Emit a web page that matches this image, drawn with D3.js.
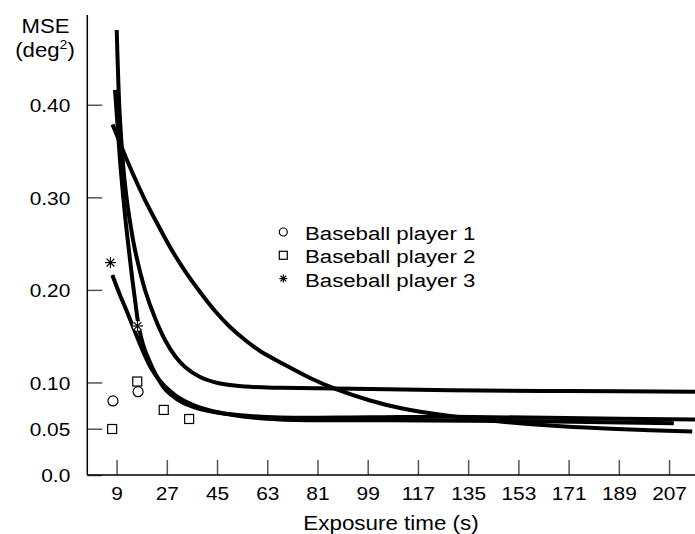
<!DOCTYPE html>
<html>
<head>
<meta charset="utf-8">
<script src="https://cdn.jsdelivr.net/npm/d3@7"></script>
<style>
  html, body { margin: 0; padding: 0; background: #fff; }
  svg { display: block; }
  text { font-family: "Liberation Sans", Arial, Helvetica, sans-serif; fill: #000; }
</style>
</head>
<body>
<svg id="chart" width="695" height="534"></svg>
<script>
// ---------------- data ----------------
const xTicks = [9, 27, 45, 63, 81, 99, 117, 135, 153, 171, 189, 207];
const yTicks = [0, 0.05, 0.10, 0.20, 0.30, 0.40];
const yTickLabels = ["0.0", "0.05", "0.10", "0.20", "0.30", "0.40"];

const seriesNames = ["Baseball player 1", "Baseball player 2", "Baseball player 3"];

// measured points
const player1X = [7.7, 16.7];
const player1Y = [0.080, 0.090];
const player2X = [7.4, 16.4, 25.9, 35.0];
const player2Y = [0.0497, 0.101, 0.0703, 0.0605];
const player3X = [6.8, 16.5];
const player3Y = [0.2295, 0.161];

// fitted curves
const curveAX = [9.04, 9.36, 9.72, 10.22, 10.94, 11.84, 12.91, 14.17, 15.60, 19.19, 22.77, 26.36, 29.94, 33.53, 38.91, 46.08, 55.04, 67.59, 100, 128.5, 170, 216.3];
const curveAY = [0.4808, 0.4484, 0.4160, 0.3836, 0.3511, 0.3187, 0.2917, 0.2669, 0.2431, 0.1999, 0.1696, 0.1459, 0.1286, 0.1167, 0.1059, 0.0989, 0.0956, 0.0942, 0.0930, 0.0915, 0.0907, 0.0900];

const curveBX = [8.43, 9.33, 10.22, 11.30, 12.38, 13.45, 14.53, 15.60, 16.68, 17.75, 19.01, 20.44, 22.06, 23.85, 25.75, 28.15, 32.92, 38.91, 46.08, 56.83, 67.59, 100, 130, 170, 216.3];
const curveBY = [0.4160, 0.3782, 0.3403, 0.3025, 0.2701, 0.2420, 0.2139, 0.1891, 0.1653, 0.1491, 0.1361, 0.1253, 0.1145, 0.1043, 0.0951, 0.0875, 0.0778, 0.0713, 0.0670, 0.0637, 0.0621, 0.0625, 0.0630, 0.0615, 0.0600];

const curveCX = [7.54, 10.22, 13.20, 16.32, 19.19, 23.85, 28.76, 33.53, 38.91, 44.28, 49.66, 55.04, 60.42, 68.77, 78.34, 87.91, 99.85, 110.61, 128.54, 146.46, 164.39, 182.31, 200.24, 215.3];
const curveCY = [0.3787, 0.3587, 0.3368, 0.3155, 0.2971, 0.2701, 0.2431, 0.2204, 0.1977, 0.1772, 0.1599, 0.1459, 0.1340, 0.1199, 0.1048, 0.0924, 0.0805, 0.0724, 0.0637, 0.0578, 0.0535, 0.0505, 0.0484, 0.0470];

const curveDX = [7.46, 10.22, 13.20, 15.78, 18.58, 21.34, 24.57, 28.15, 31.74, 36.50, 42.49, 49.66, 58.62, 67.59, 81.93, 120, 160, 190, 208.7];
const curveDY = [0.2161, 0.1945, 0.1729, 0.1534, 0.1329, 0.1156, 0.1016, 0.0908, 0.0827, 0.0756, 0.0697, 0.0654, 0.0618, 0.0600, 0.0591, 0.0590, 0.0580, 0.0568, 0.0558];

// ---------------- layout ----------------
const svg = d3.select("#chart");
const x = d3.scaleLinear().domain([-1.5, 216.3]).range([87.3, 695]);
const y = d3.scaleLinear().domain([0, 0.497]).range([475, 15]);

const FONT = 18.5;
function stext(g, tx, ty, str, size, anchor, sx) {
  return g.append("text")
    .attr("transform", `translate(${tx},${ty}) scale(${sx},1)`)
    .attr("text-anchor", anchor)
    .style("font-size", size + "px")
    .text(str);
}

// axes
const yAxis = d3.axisLeft(y).tickValues(yTicks).tickSize(-15).tickPadding(17)
  .tickFormat((d, i) => yTickLabels[i]);
const gy = svg.append("g").attr("transform", `translate(${x.range()[0]},0)`).call(yAxis);
gy.select(".domain").remove();
gy.selectAll(".tick line").attr("stroke", "#555").attr("stroke-width", 1.5);
gy.selectAll(".tick text").each(function() {
  const t = d3.select(this);
  t.attr("x", null).attr("dy", null)
   .attr("transform", `translate(-17,6.7) scale(1.13,1)`)
   .attr("font-family", null).attr("font-size", null)
   .style("font-size", FONT + "px").attr("fill", "#000");
});

const xAxis = d3.axisBottom(x).tickValues(xTicks).tickSize(-15).tickPadding(0)
  .tickFormat(d3.format("d"));
const gx = svg.append("g").attr("transform", `translate(0,${y(0)})`).call(xAxis);
gx.select(".domain").remove();
gx.selectAll(".tick line").attr("stroke", "#555").attr("stroke-width", 1.5);
gx.selectAll(".tick text").each(function() {
  const t = d3.select(this);
  t.attr("y", null).attr("dy", null)
   .attr("transform", `translate(0,25) scale(1.13,1)`)
   .attr("font-family", null).attr("font-size", null)
   .style("font-size", FONT + "px").attr("fill", "#000");
});

// axis lines
svg.append("line")
  .attr("x1", x.range()[0]).attr("x2", x.range()[0])
  .attr("y1", y(0)).attr("y2", y(0.497))
  .attr("stroke", "#000").attr("stroke-width", 1.5);
svg.append("line")
  .attr("x1", x.range()[0]).attr("x2", x.range()[1])
  .attr("y1", y(0)).attr("y2", y(0))
  .attr("stroke", "#000").attr("stroke-width", 1.5);

// axis titles
const titleG = svg.append("g");
stext(titleG, 45.5, 33, "MSE", 20.5, "middle", 1.08);
const deg = titleG.append("text")
  .attr("transform", `translate(45,57) scale(1.08,1)`)
  .attr("text-anchor", "middle")
  .style("font-size", "20.5px");
deg.append("tspan").text("(deg");
deg.append("tspan").attr("dy", -8).style("font-size", "13px").text("2");
deg.append("tspan").attr("dy", 8).text(")");
stext(titleG, 391, 530, "Exposure time (s)", 20, "middle", 1.12);

// curves
const line = d3.line().x(d => x(d[0])).y(d => y(d[1])).curve(d3.curveCatmullRom.alpha(0.5));
const curves = [
  [curveAX, curveAY], [curveBX, curveBY], [curveCX, curveCY], [curveDX, curveDY]
];
svg.append("g").selectAll("path").data(curves).join("path")
  .attr("d", c => line(c[0].map((v, i) => [v, c[1][i]])))
  .attr("fill", "none").attr("stroke", "#000").attr("stroke-width", 4)
  .attr("stroke-linecap", "butt").attr("stroke-linejoin", "round");

// markers
function circleMark(g, cx, cy, r) {
  g.append("circle").attr("cx", cx).attr("cy", cy).attr("r", r)
    .attr("fill", "#fff").attr("stroke", "#000").attr("stroke-width", 1.2);
}
function squareMark(g, cx, cy, s) {
  g.append("rect").attr("x", cx - s / 2).attr("y", cy - s / 2).attr("width", s).attr("height", s)
    .attr("fill", "#fff").attr("stroke", "#000").attr("stroke-width", 1.2);
}
function starMark(g, cx, cy, r) {
  g.append("circle").attr("cx", cx).attr("cy", cy).attr("r", r * 0.9).attr("fill", "#fff");
  const a = [0, 45, 90, 135];
  a.forEach(deg => {
    const rad = deg * Math.PI / 180;
    g.append("line")
      .attr("x1", cx - r * Math.cos(rad)).attr("y1", cy - r * Math.sin(rad))
      .attr("x2", cx + r * Math.cos(rad)).attr("y2", cy + r * Math.sin(rad))
      .attr("stroke", "#000").attr("stroke-width", 1.2);
  });
}
const mg = svg.append("g");
player1X.forEach((v, i) => circleMark(mg, x(v), y(player1Y[i]), 5));
player2X.forEach((v, i) => squareMark(mg, x(v), y(player2Y[i]), 9));
player3X.forEach((v, i) => starMark(mg, x(v), y(player3Y[i]), 5.5));

// legend
const lg = svg.append("g");
const legX = 283.3, legTextX = 305, legY0 = 240, legDy = 23.3;
circleMark(lg, legX, legY0 - 8, 4);
squareMark(lg, legX, legY0 + legDy - 8, 8);
starMark(lg, legX, legY0 + 2 * legDy - 8, 4);
seriesNames.forEach((s, i) => stext(lg, legTextX, legY0 + i * legDy, s, 19, "start", 1.17));
</script>
</body>
</html>
